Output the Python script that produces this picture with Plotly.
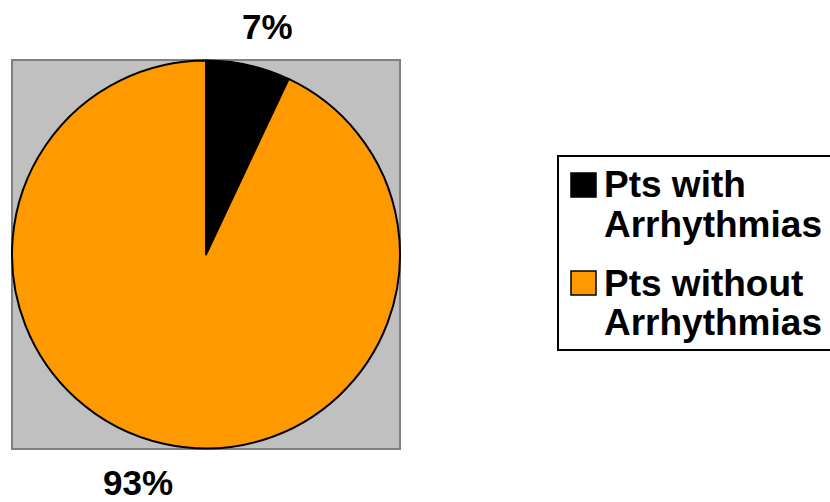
import plotly.graph_objects as go

labels = ["Pts with<br>Arrhythmias", "Pts without<br>Arrhythmias"]
values = [7, 93]
colors = ["#000000", "#FF9900"]

W, H = 830, 502
FONT = "Liberation Sans, Arial"


def px(x):
    return x / W


def py(y):
    return 1 - y / H


# gray plot area, in pixels from the top left of the figure
x0, x1, y0, y1 = 12, 400, 60, 449

fig = go.Figure()
fig.add_trace(go.Pie(
    labels=[l.replace("<br>", " ") for l in labels], values=values,
    sort=False, direction="clockwise", rotation=0,
    marker=dict(colors=colors, line=dict(color="black", width=2)),
    textinfo="none", hoverinfo="label+percent", showlegend=False,
    domain=dict(x=[px(x0), px(x1)], y=[py(y1), py(y0)]),
))

fig.add_shape(type="rect", xref="paper", yref="paper",
              x0=px(x0), x1=px(x1), y0=py(y1), y1=py(y0),
              fillcolor="#C0C0C0", line=dict(color="#808080", width=2), layer="below")

# percentage labels
total = sum(values)
pct = [f"{round(v / total * 100)}%" for v in values]
lab_font = dict(family=FONT, size=35, color="black")
for txt, (lx, ly) in zip(pct, [(267.5, 27), (137.5, 482)]):
    fig.add_annotation(x=px(lx), y=py(ly), xref="paper", yref="paper",
                       xanchor="center", yanchor="middle",
                       text=f"<b>{txt}</b>", showarrow=False, font=lab_font)

# legend (drawn by hand so the swatches and line spacing match);
# its right edge runs off the figure, so only three sides are stroked
lx0, lx1, ly0, ly1 = 558, 900, 156, 350
fig.add_shape(type="path", xref="paper", yref="paper",
              path=f"M {px(lx1)},{py(ly0)} L {px(lx0)},{py(ly0)} "
                   f"L {px(lx0)},{py(ly1)} L {px(lx1)},{py(ly1)}",
              fillcolor="rgba(0,0,0,0)", line=dict(color="black", width=2))
leg_font = dict(family=FONT, size=37, color="black")
sw_top = [173, 271]
line_y = [[184, 224], [283, 322]]
for lab, col, st, ys in zip(labels, colors, sw_top, line_y):
    fig.add_shape(type="rect", xref="paper", yref="paper",
                  x0=px(571), x1=px(596), y0=py(st + 24), y1=py(st),
                  fillcolor=col, line=dict(color="black", width=1.5))
    for part, ly in zip(lab.split("<br>"), ys):
        fig.add_annotation(x=px(602), y=py(ly), xref="paper", yref="paper",
                           xanchor="left", yanchor="middle",
                           text=f"<b>{part}</b>", showarrow=False, font=leg_font)

fig.update_layout(
    width=W, height=H, margin=dict(l=0, r=0, t=0, b=0),
    paper_bgcolor="white", plot_bgcolor="white",
)

fig.write_html("out.html", config={"displayModeBar": False},
               post_script="document.body.style.margin='0';")
